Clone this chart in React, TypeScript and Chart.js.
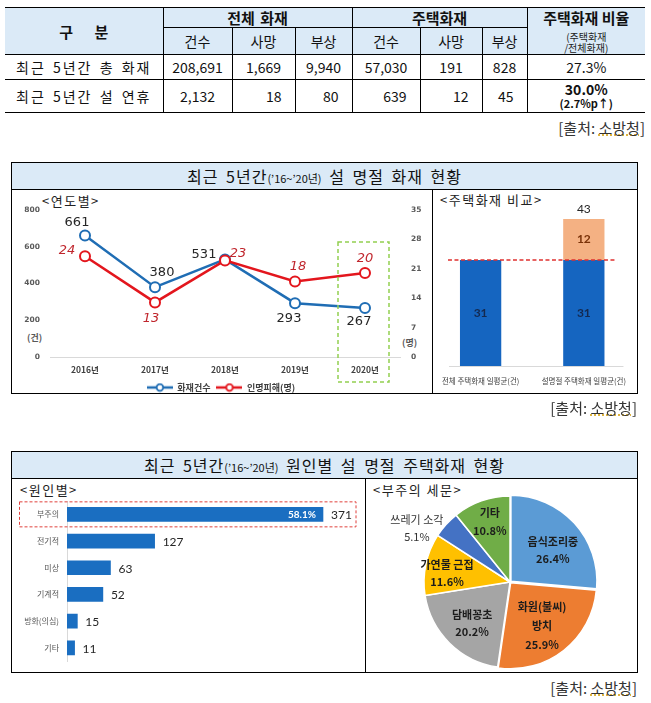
import React, { useEffect, useRef } from "react";
import { Chart, registerables } from "chart.js";

Chart.register(...registerables);

// ---------------- data ----------------
const tableGroups = ["전체 화재", "주택화재"];
const tableSubCols = ["건수", "사망", "부상"];
const tableRowLabels = ["최근 5년간 총 화재", "최근 5년간 설 연휴"];
const allFireTotal = [208691, 1669, 9940];
const houseFireTotal = [57030, 191, 828];
const allFireHoliday = [2132, 18, 80];
const houseFireHoliday = [639, 12, 45];
const houseRatioTotal = "27.3%";
const houseRatioHoliday = "30.0%";
const houseRatioDiff = "(2.7%p↑)";

const years = ["2016년", "2017년", "2018년", "2019년", "2020년"];
const fireCounts = [661, 380, 531, 293, 267];
const casualties = [24, 13, 23, 18, 20];
const lineSeriesNames = ["화재건수", "인명피해(명)"];

const compareCategories = ["전체 주택화재 일평균(건)", "설명절 주택화재 일평균(건)"];
const compareBase = [31, 31];
const compareExtra = [0, 12];

const causeCategories = ["부주의", "전기적", "미상", "기계적", "방화(의심)", "기타"];
const causeValues = [371, 127, 63, 52, 15, 11];

const carelessCategories: (string | string[])[] = [
  "음식조리중",
  ["화원(불씨)", "방치"],
  "담배꽁초",
  "가연물 근접",
  "쓰레기 소각",
  "기타",
];
const carelessShares = [26.4, 25.9, 20.2, 11.6, 5.1, 10.8];

// ---------------- styles ----------------
const FONT_KR = '"Noto Sans CJK KR", "Noto Sans", sans-serif';
const FONT_NUM = '"DejaVu Sans", sans-serif';
const FONT_CAL = 'Lato, "Open Sans", sans-serif';
const HEAD_BG = "#dbeaf7";
const BLUE_LINE = "#1f6db4";
const RED_LINE = "#e3161d";
const BAR_BLUE = "#1565c0";
const BAR_ORANGE = "#f4b183";
const CAUSE_BLUE = "#1a6ec1";
const PIE_COLORS = ["#5b9bd5", "#ed7d31", "#a5a5a5", "#ffc000", "#4472c4", "#70ad47"];

// label offsets (style) for line chart values: [dx, dy]
const COUNT_LABEL_OFFSETS = [[-8, -13], [7, -15], [-21, -5], [-6, 15], [-6, 14]];
const CASUALTY_LABEL_OFFSETS = [[-18, -6], [-4, 16], [13, -7], [3, -15], [0, -14]];
// pie label placement: radius fraction, angle shift (deg), line height, bold
const PIE_LABEL_PLACE = [
  { r: 0.62, shift: 6, lh: 17, bold: true },
  { r: 0.63, shift: 2, lh: 19, bold: true },
  { r: 0.65, shift: -2, lh: 17, bold: true },
  { r: 0.74, shift: -4, lh: 17, bold: true },
  { r: 1.25, shift: -12, lh: 17, bold: false },
  { r: 0.74, shift: 1, lh: 18, bold: true },
];

function fmt(n: number) {
  return n.toLocaleString("en-US");
}

function legendMarker(color: string) {
  const c = document.createElement("canvas");
  c.width = 26;
  c.height = 10;
  const g = c.getContext("2d")!;
  g.strokeStyle = color;
  g.lineWidth = 2.5;
  g.beginPath();
  g.moveTo(0, 5);
  g.lineTo(26, 5);
  g.stroke();
  g.fillStyle = "#fff";
  g.lineWidth = 1.8;
  g.beginPath();
  g.arc(13, 5, 3.3, 0, Math.PI * 2);
  g.fill();
  g.stroke();
  return c;
}

// ---------------- plugins ----------------
const lineLabelPlugin = {
  id: "lineLabels",
  afterDatasetsDraw(chart: any) {
    const ctx = chart.ctx;
    const styles = [
      { font: `13px ${FONT_NUM}`, color: "#262626", offsets: COUNT_LABEL_OFFSETS },
      { font: `italic 13px ${FONT_NUM}`, color: "#c0262d", offsets: CASUALTY_LABEL_OFFSETS },
    ];
    styles.forEach((s, di) => {
      const meta = chart.getDatasetMeta(di);
      meta.data.forEach((pt: any, i: number) => {
        const v = chart.data.datasets[di].data[i];
        ctx.save();
        ctx.font = s.font;
        ctx.fillStyle = s.color;
        ctx.textAlign = "center";
        ctx.textBaseline = "middle";
        ctx.fillText(String(v), pt.x + s.offsets[i][0], pt.y + s.offsets[i][1]);
        ctx.restore();
      });
    });
    // highlight box around latest year
    const xs = chart.scales.x;
    const ca = chart.chartArea;
    const cx = xs.getPixelForValue(years.length - 1);
    ctx.save();
    ctx.strokeStyle = "#92d050";
    ctx.lineWidth = 1.5;
    ctx.setLineDash([4, 3]);
    ctx.strokeRect(cx - 27, ca.top + 32, 51, ca.bottom - ca.top - 32 + 25);
    ctx.restore();
  },
};

const comparePlugin = {
  id: "compareLabels",
  afterDatasetsDraw(chart: any) {
    const ctx = chart.ctx;
    const ca = chart.chartArea;
    const ys = chart.scales.y;
    const base = chart.getDatasetMeta(0).data;
    const extra = chart.getDatasetMeta(1).data;
    // baseline
    ctx.save();
    ctx.strokeStyle = "#d9d9d9";
    ctx.lineWidth = 1;
    ctx.beginPath();
    ctx.moveTo(ca.left + 20, ys.getPixelForValue(0) + 0.5);
    ctx.lineTo(ca.right - 12, ys.getPixelForValue(0) + 0.5);
    ctx.stroke();
    // average dashed line
    const yAvg = ys.getPixelForValue(compareBase[0]);
    const first = base[0];
    const last = base[base.length - 1];
    ctx.strokeStyle = "#e0312f";
    ctx.lineWidth = 1.5;
    ctx.setLineDash([4, 2.5]);
    ctx.beginPath();
    ctx.moveTo(first.x - first.width / 2 - 12, yAvg);
    ctx.lineTo(last.x + last.width / 2 + 12, yAvg);
    ctx.stroke();
    ctx.setLineDash([]);
    ctx.textAlign = "center";
    ctx.textBaseline = "middle";
    base.forEach((b: any, i: number) => {
      ctx.font = `bold 12px ${FONT_CAL}`;
      ctx.fillStyle = "#14294f";
      ctx.fillText(String(compareBase[i]), b.x, (b.y + b.base) / 2);
      if (compareExtra[i] > 0) {
        const e = extra[i];
        ctx.fillStyle = "#7a3208";
        ctx.fillText(String(compareExtra[i]), e.x, (e.y + e.base) / 2);
        ctx.font = `12px ${FONT_CAL}`;
        ctx.fillStyle = "#262626";
        ctx.fillText(String(compareBase[i] + compareExtra[i]), e.x, e.y - 10);
      }
    });
    ctx.restore();
  },
};

const causePlugin = {
  id: "causeLabels",
  afterDatasetsDraw(chart: any) {
    const ctx = chart.ctx;
    const ca = chart.chartArea;
    const bars = chart.getDatasetMeta(0).data;
    const total = causeValues.reduce((a, b) => a + b, 0);
    ctx.save();
    ctx.textBaseline = "middle";
    bars.forEach((b: any, i: number) => {
      ctx.font = `12px ${FONT_CAL}`;
      ctx.fillStyle = "#262626";
      ctx.textAlign = "left";
      ctx.fillText(String(causeValues[i]), b.x + 8, b.y + 1);
      if (i === 0) {
        ctx.font = `bold 10px ${FONT_CAL}`;
        ctx.fillStyle = "#ffffff";
        ctx.textAlign = "right";
        ctx.fillText(((causeValues[0] / total) * 100).toFixed(1) + "%", b.x - 7, b.y);
        // dashed highlight box
        ctx.strokeStyle = "#e0403c";
        ctx.lineWidth = 1;
        ctx.setLineDash([3, 2]);
        ctx.strokeRect(7.5, b.y - 12.5, ca.right + 13 - 7.5, 25);
        ctx.setLineDash([]);
      }
    });
    ctx.restore();
  },
};

const pieLabelPlugin = {
  id: "pieLabels",
  afterDatasetsDraw(chart: any) {
    const ctx = chart.ctx;
    const meta = chart.getDatasetMeta(0);
    meta.data.forEach((arc: any, i: number) => {
      const p = arc.getProps(["x", "y", "startAngle", "endAngle", "outerRadius"], true);
      const place = PIE_LABEL_PLACE[i];
      const mid = (p.startAngle + p.endAngle) / 2 + (place.shift * Math.PI) / 180;
      const r = p.outerRadius * place.r;
      const cx = p.x + Math.cos(mid) * r;
      const cy = p.y + Math.sin(mid) * r;
      const lab = carelessCategories[i];
      const lines = (Array.isArray(lab) ? lab : [lab]).concat([carelessShares[i].toFixed(1) + "%"]);
      ctx.save();
      ctx.textAlign = "center";
      ctx.textBaseline = "middle";
      ctx.fillStyle = place.bold ? "#1c1c1c" : "#333333";
      ctx.font = `${place.bold ? "bold " : ""}11px ${FONT_KR}`;
      const y0 = cy - ((lines.length - 1) * place.lh) / 2;
      lines.forEach((t, k) => ctx.fillText(t, cx, y0 + k * place.lh));
      ctx.restore();
    });
  },
};

// ---------------- chart configs ----------------
function lineConfig(): any {
  const markers = [legendMarker(BLUE_LINE), legendMarker(RED_LINE)];
  return {
    type: "line",
    data: {
      labels: years,
      datasets: [
        {
          label: lineSeriesNames[0],
          data: fireCounts,
          yAxisID: "y",
          borderColor: BLUE_LINE,
          backgroundColor: "#fff",
          borderWidth: 2.5,
          pointRadius: 5,
          pointBorderWidth: 2,
          pointBackgroundColor: "#fff",
          pointBorderColor: BLUE_LINE,
          tension: 0,
          order: 1,
        },
        {
          label: lineSeriesNames[1],
          data: casualties,
          yAxisID: "y1",
          borderColor: RED_LINE,
          backgroundColor: "#fff",
          borderWidth: 2.5,
          pointRadius: 5,
          pointBorderWidth: 2,
          pointBackgroundColor: "#fff",
          pointBorderColor: RED_LINE,
          tension: 0,
          order: 0,
        },
      ],
    },
    options: {
      responsive: false,
      animation: false,
      layout: { padding: { top: 20, left: 0, right: 0, bottom: 0 } },
      scales: {
        x: {
          offset: true,
          grid: { display: false, drawTicks: false, offset: true },
          border: { display: true, color: "#d9d9d9" },
          ticks: { font: { family: FONT_KR, size: 8.5, weight: "bold" }, color: "#404040", padding: 8 },
          afterFit: (s: any) => {
            s.height = 20;
          },
        },
        y: {
          position: "left",
          min: 0,
          max: 800,
          grid: { display: false, drawTicks: false },
          border: { display: false },
          ticks: { stepSize: 200, font: { family: FONT_NUM, size: 7.5, weight: "bold" }, color: "#595959", padding: 10 },
          afterFit: (s: any) => {
            s.width = 38;
          },
        },
        y1: {
          position: "right",
          min: 0,
          max: 35,
          grid: { display: false, drawTicks: false },
          border: { display: false },
          ticks: { stepSize: 7, font: { family: FONT_NUM, size: 7.5, weight: "bold" }, color: "#595959", padding: 11 },
          afterFit: (s: any) => {
            s.width = 30;
          },
        },
      },
      plugins: {
        tooltip: { enabled: false },
        legend: {
          position: "bottom",
          labels: {
            usePointStyle: true,
            pointStyleWidth: 26,
            padding: 6,
            font: { family: FONT_KR, size: 9, weight: "bold" },
            color: "#404040",
            generateLabels: (chart: any) => {
              const items = Chart.defaults.plugins.legend.labels.generateLabels(chart);
              items.sort((a: any, b: any) => a.datasetIndex - b.datasetIndex);
              items.forEach((it: any) => {
                it.pointStyle = markers[it.datasetIndex];
              });
              return items;
            },
          },
        },
      },
    },
    plugins: [lineLabelPlugin],
  };
}

function compareConfig(): any {
  return {
    type: "bar",
    data: {
      labels: compareCategories,
      datasets: [
        { label: "평균", data: compareBase, backgroundColor: BAR_BLUE, barPercentage: 0.4, categoryPercentage: 1 },
        { label: "증가", data: compareExtra, backgroundColor: BAR_ORANGE, barPercentage: 0.4, categoryPercentage: 1 },
      ],
    },
    options: {
      responsive: false,
      animation: false,
      layout: { padding: { top: 5, left: 0, right: 0, bottom: 0 } },
      scales: {
        x: {
          stacked: true,
          grid: { display: false, drawTicks: false },
          border: { display: false },
          ticks: { font: { family: FONT_KR, size: 7.5 }, color: "#404040", padding: 11, maxRotation: 0, autoSkip: false },
          afterFit: (s: any) => {
            s.height = 26;
          },
        },
        y: { stacked: true, display: false, min: 0, max: 50 },
      },
      plugins: { legend: { display: false }, tooltip: { enabled: false } },
    },
    plugins: [comparePlugin],
  };
}

function causeConfig(): any {
  return {
    type: "bar",
    data: {
      labels: causeCategories,
      datasets: [{ data: causeValues, backgroundColor: CAUSE_BLUE, barThickness: 14 }],
    },
    options: {
      indexAxis: "y",
      responsive: false,
      animation: false,
      layout: { padding: { top: 22, bottom: 1, left: 0, right: 21 } },
      scales: {
        x: { display: false, min: 0, max: 400 },
        y: {
          grid: { display: false, drawTicks: false },
          border: { display: true, color: "#d9d9d9" },
          ticks: { font: { family: FONT_KR, size: 8 }, color: "#595959", padding: 8 },
          afterFit: (s: any) => {
            s.width = 55;
          },
        },
      },
      plugins: { legend: { display: false }, tooltip: { enabled: false } },
    },
    plugins: [causePlugin],
  };
}

function pieConfig(): any {
  return {
    type: "pie",
    data: {
      labels: carelessCategories,
      datasets: [
        {
          data: carelessShares,
          backgroundColor: PIE_COLORS,
          borderColor: "#ffffff",
          borderWidth: 1.5,
          offset: [5, 4, 0, 0, 0, 0],
          radius: 86,
        },
      ],
    },
    options: {
      responsive: false,
      animation: false,
      radius: 86,
      layout: { padding: { top: 13, left: 18, right: 0, bottom: 0 } },
      plugins: { legend: { display: false }, tooltip: { enabled: false } },
    },
    plugins: [pieLabelPlugin],
  };
}

// ---------------- components ----------------
function ChartBox({ make, left, top, width, height }: any) {
  const ref = useRef<HTMLCanvasElement>(null);
  useEffect(() => {
    const chart = new Chart(ref.current as HTMLCanvasElement, make());
    return () => chart.destroy();
  }, []);
  return (
    <canvas
      ref={ref}
      width={width}
      height={height}
      style={{ position: "absolute", left, top, width, height }}
    />
  );
}

function Source({ right, top }: { right: number; top: number }) {
  return (
    <div
      style={{
        position: "absolute",
        right,
        top,
        fontSize: 15,
        lineHeight: "18px",
        color: "#333",
        whiteSpace: "nowrap",
      }}
    >
      [출처:{" "}
      <span style={{ textDecorationLine: "underline", textDecorationStyle: "dotted", textDecorationColor: "#d29b00" }}>
        소방청
      </span>
      ]
    </div>
  );
}

function Panel({ top, height, divider, children }: any) {
  return (
    <div
      style={{
        position: "absolute",
        left: 11,
        top,
        width: 627,
        height,
        border: "1px solid #000",
        boxSizing: "border-box",
      }}
    >
      <div
        style={{
          height: 27,
          background: HEAD_BG,
          borderBottom: "1px solid #000",
          boxSizing: "border-box",
          textAlign: "center",
          fontSize: 16,
          lineHeight: "26px",
          letterSpacing: 1,
          wordSpacing: 3,
          color: "#111",
          whiteSpace: "nowrap",
        }}
      >
        {children}
      </div>
      <div style={{ position: "absolute", left: divider - 12, top: 26, bottom: 0, width: 1, background: "#000" }} />
    </div>
  );
}

function Caption({ left, top, text }: any) {
  return (
    <div
      style={{
        position: "absolute",
        left,
        top,
        fontSize: 13,
        lineHeight: "16px",
        letterSpacing: 1.5,
        color: "#222",
        whiteSpace: "nowrap",
      }}
    >
      {text}
    </div>
  );
}

function SummaryTable() {
  const colW = [158, 69, 63, 57, 68, 62, 45, 118];
  const cell = (extra: any = {}) => ({
    border: "1px solid #000",
    padding: 0,
    textAlign: "center" as const,
    verticalAlign: "middle" as const,
    ...extra,
  });
  const head = (extra: any = {}) => cell({ background: HEAD_BG, ...extra });
  const last = { borderRight: "none" };
  const firstC = { borderLeft: "none" };
  const rowLabel = { letterSpacing: 2, wordSpacing: 2 };
  return (
    <table
      style={{
        position: "absolute",
        left: 5,
        top: 7,
        width: 640,
        borderCollapse: "collapse",
        tableLayout: "fixed",
        fontFamily: FONT_KR,
        fontSize: 14,
        color: "#111",
      }}
    >
      <colgroup>
        {colW.map((w, i) => (
          <col key={i} style={{ width: w }} />
        ))}
      </colgroup>
      <tbody>
        <tr style={{ height: 20 }}>
          <td rowSpan={2} style={head({ ...firstC, fontWeight: 700, fontSize: 15, wordSpacing: 18 })}>
            구 분
          </td>
          <td colSpan={3} style={head({ fontWeight: 700, fontSize: 15, lineHeight: "19px", wordSpacing: 2 })}>
            {tableGroups[0]}
          </td>
          <td colSpan={3} style={head({ fontWeight: 700, fontSize: 15, lineHeight: "19px" })}>
            {tableGroups[1]}
          </td>
          <td rowSpan={2} style={head({ ...last, verticalAlign: "top" })}>
            <div style={{ fontWeight: 700, fontSize: 15, lineHeight: "19px" }}>주택화재 비율</div>
            <div style={{ fontSize: 10, lineHeight: "11px", marginTop: 4, color: "#222" }}>
              (주택화재
              <br />
              /전체화재)
            </div>
          </td>
        </tr>
        <tr style={{ height: 27 }}>
          {[...tableSubCols, ...tableSubCols].map((t, i) => (
            <td key={i} style={head()}>
              {t}
            </td>
          ))}
        </tr>
        <tr style={{ height: 25 }}>
          <td style={cell({ ...firstC, ...rowLabel })}>{tableRowLabels[0]}</td>
          {[...allFireTotal, ...houseFireTotal].map((v, i) => (
            <td key={i} style={cell()}>
              {fmt(v)}
            </td>
          ))}
          <td style={cell(last)}>{houseRatioTotal}</td>
        </tr>
        <tr style={{ height: 33 }}>
          <td style={cell({ ...firstC, ...rowLabel })}>{tableRowLabels[1]}</td>
          {[...allFireHoliday, ...houseFireHoliday].map((v, i) => (
            <td key={i} style={cell({ textAlign: i === 0 ? "center" : "right", paddingRight: i === 0 ? 0 : 13 })}>
              {fmt(v)}
            </td>
          ))}
          <td style={cell(last)}>
            <div style={{ fontWeight: 700, fontSize: 14, lineHeight: "15px" }}>{houseRatioHoliday}</div>
            <div style={{ fontWeight: 700, fontSize: 11, lineHeight: "13px" }}>{houseRatioDiff}</div>
          </td>
        </tr>
      </tbody>
    </table>
  );
}

export default function App() {
  return (
    <div
      style={{
        position: "absolute",
        left: 0,
        top: 0,
        width: 651,
        height: 703,
        background: "#fff",
        fontFamily: FONT_KR,
        color: "#111",
        overflow: "hidden",
      }}
    >
      <SummaryTable />
      <Source right={6} top={119} />

      <Panel top={162} height={232} divider={432}>
        최근 5년간<span style={{ fontSize: 11, letterSpacing: 0 }}>(’16~’20년)</span> 설 명절 화재 현황
      </Panel>
      <Caption left={42} top={193} text="<연도별>" />
      <Caption left={440} top={192} text="<주택화재 비교>" />
      <div style={{ position: "absolute", left: 27, top: 331, fontSize: 9, fontWeight: 700, color: "#595959" }}>(건)</div>
      <div style={{ position: "absolute", left: 402, top: 336, fontSize: 9, fontWeight: 700, color: "#595959" }}>(명)</div>
      <ChartBox make={lineConfig} left={12} top={190} width={418} height={212} />
      <ChartBox make={compareConfig} left={429} top={190} width={208} height={202} />
      <Source right={14} top={399} />

      <Panel top={451} height={222} divider={365}>
        최근 5년간<span style={{ fontSize: 11, letterSpacing: 0 }}>(’16~’20년)</span> 원인별 설 명절 주택화재 현황
      </Panel>
      <Caption left={20} top={482} text="<원인별>" />
      <Caption left={373} top={482} text="<부주의 세문>" />
      <ChartBox make={causeConfig} left={12} top={479} width={352} height={195} />
      <ChartBox make={pieConfig} left={366} top={479} width={270} height={193} />
      <Source right={14} top={679} />
    </div>
  );
}
